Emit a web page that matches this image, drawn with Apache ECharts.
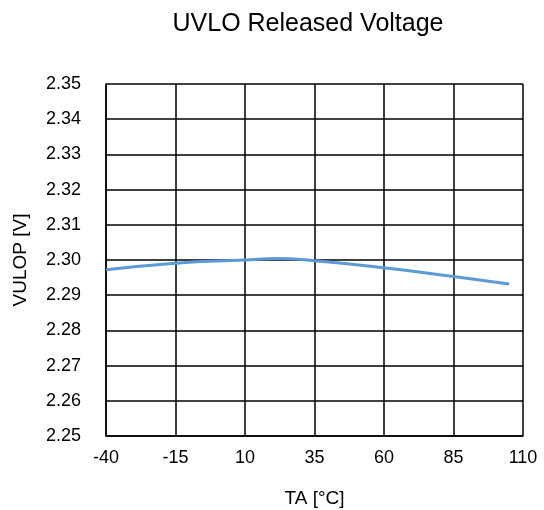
<!DOCTYPE html>
<html><head><meta charset="utf-8">
<script src="https://cdn.jsdelivr.net/npm/echarts@6/dist/echarts.min.js"></script>
<style>html,body{margin:0;padding:0;background:#fff}#c{width:544px;height:510px}</style>
</head><body><div id="c"></div>
<script>
const temps = [-40, -15, 10, 21, 35, 60, 85, 105];
const volts = [2.2972, 2.2991, 2.3000, 2.3004, 2.2998, 2.2978, 2.2953, 2.2932];
const xTicks = [-40, -15, 10, 35, 60, 85, 110];
const yTicks = [2.25, 2.26, 2.27, 2.28, 2.29, 2.30, 2.31, 2.32, 2.33, 2.34, 2.35];

const chart = echarts.init(document.getElementById('c'), null, {renderer: 'canvas'});
const font = 'Liberation Sans, Arial, sans-serif';
chart.setOption({
  animation: false,
  title: {
    text: 'UVLO Released Voltage', left: 303, top: 7, textAlign: 'center',
    textStyle: {fontFamily: font, fontSize: 25, fontWeight: 'normal', color: '#000'}
  },
  grid: {left: 106, right: 21, top: 84, bottom: 74, containLabel: false, outerBoundsMode: 'none'},
  xAxis: {
    type: 'value', min: xTicks[0], max: xTicks[xTicks.length - 1], interval: 25,
    name: 'TA [°C]', nameLocation: 'middle', nameGap: 53,
    nameTextStyle: {fontFamily: font, fontSize: 19, color: '#000'},
    axisLine: {onZero: false, lineStyle: {color: '#000', width: 1.5}},
    axisTick: {show: false},
    axisLabel: {fontFamily: font, fontSize: 18, color: '#000', margin: 13},
    splitLine: {show: true, lineStyle: {color: '#000', width: 1.5}}
  },
  yAxis: {
    type: 'value', min: yTicks[0], max: yTicks[yTicks.length - 1], interval: 0.01,
    name: 'VULOP [V]', nameLocation: 'middle', nameGap: 76, nameRotate: 90,
    nameTextStyle: {fontFamily: font, fontSize: 19, color: '#000'},
    axisLine: {show: true, onZero: false, lineStyle: {color: '#000', width: 1.5}},
    axisTick: {show: false},
    axisLabel: {fontFamily: font, fontSize: 18, color: '#000', margin: 25,
      formatter: v => v.toFixed(2)},
    splitLine: {show: true, lineStyle: {color: '#000', width: 1.5}}
  },
  series: [{
    type: 'line', data: temps.map((t, i) => [t, volts[i]]),
    smooth: true, showSymbol: false,
    lineStyle: {color: '#5B9BD5', width: 3}
  }]
});
</script></body></html>
